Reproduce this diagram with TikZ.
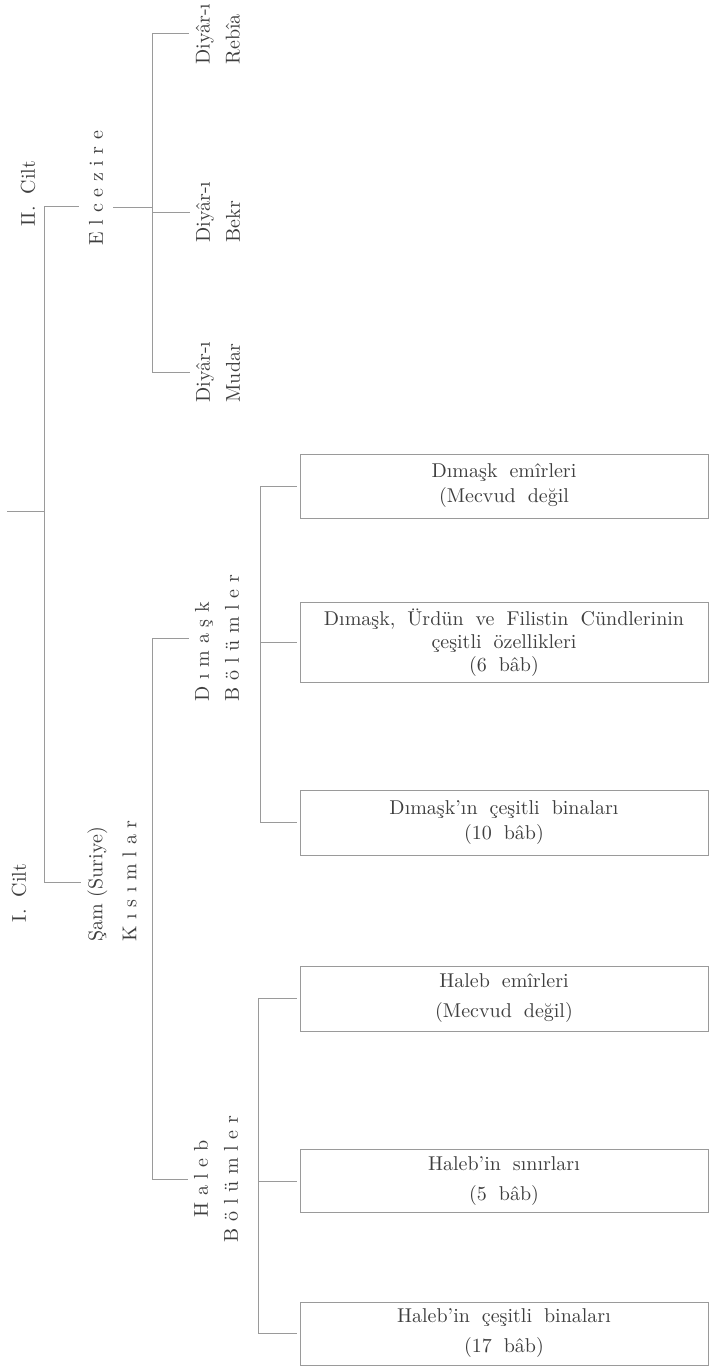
\documentclass[tikz,border=0pt]{standalone}
\usepackage{fontspec}
\usepackage{tikz}
\definecolor{ink}{HTML}{3E3E3E}
\definecolor{rule}{HTML}{9A9A9A}
\newcommand{\widespace}{\spaceskip=6pt plus 2pt minus 1pt\relax}
\tikzset{
  vtext/.style={
    rotate=90,
    text=ink,
    align=left,
    inner xsep=0pt,
    inner ysep=3pt,
    font=\fontsize{10}{15}\selectfont
  },
  chapter/.style={
    draw=rule,
    line width=0.5pt,
    minimum width=204pt,
    minimum height=32pt,
    text=ink,
    align=center,
    font=\fontsize{10}{12.5}\selectfont\widespace
  },
  hchapter/.style={chapter, font=\fontsize{10}{15}\selectfont\widespace},
  link/.style={draw=rule, line width=0.5pt}
}

\begin{document}
\begin{tikzpicture}[x=0.5pt, y=-0.5pt]
  \useasboundingbox (0,0) rectangle (710,1370);

  \node[vtext, font=\fontsize{10}{15}\selectfont\widespace] (vol2) at (28,194) {II. Cilt};
  \node[vtext, font=\fontsize{10}{15}\selectfont\widespace] (vol1) at (19,893) {I. Cilt};

  \node[vtext, inner ysep=5pt] (cezire) at (96,188) {E l c e z i r e};
  \node[vtext] (rebia) at (218,34) {Diyâr-ı\\Rebîa};
  \node[vtext] (bekr) at (218,212) {Diyâr-ı\\Bekr};
  \node[vtext] (mudar) at (218,372) {Diyâr-ı\\Mudar};

  \node[vtext, font=\fontsize{10}{17}\selectfont] (sam) at (112,881)
    {Şam (Suriye)\\K ı s ı m l a r};
  \node[vtext] (dimask) at (217,638) {D ı m a ş k\\B ö l ü m l e r};
  \node[vtext, align=center] (haleb) at (216,1179) {H a l e b\\B ö l ü m l e r};

  \node[chapter] (dbox1) at (504,486) {Dımaşk emîrleri\\(Mecvud değil};
  \node[chapter, minimum height=39.5pt, font=\fontsize{10}{11.5}\selectfont\widespace]
    (dbox2) at (504,642.5)
    {Dımaşk, Ürdün ve Filistin Cündlerinin\\çeşitli özellikleri\\(6 bâb)};
  \node[chapter, minimum height=32.5pt] (dbox3) at (504,822.5)
    {Dımaşk'ın çeşitli binaları\\(10 bâb)};

  \node[hchapter, minimum height=32.5pt] (hbox1) at (504,998.5)
    {Haleb emîrleri\\(Mecvud değil)};
  \node[hchapter, minimum height=31pt] (hbox2) at (504,1181)
    {Haleb'in sınırları\\(5 bâb)};
  \node[hchapter, minimum height=31.5pt] (hbox3) at (504,1333.5)
    {Haleb'in çeşitli binaları\\(17 bâb)};

  % volumes
  \coordinate (root) at (7,511);
  \coordinate (v2) at (44,206);
  \coordinate (v1) at (44,882);
  \draw[link] (v2) -- (v1);
  \draw[link] (root) -- (root -| v1);
  \draw[link] (v2) -- (v2 -| cezire.north);
  \draw[link] (v1) -- (v1 -| sam.north);

  % El cezire
  \coordinate (cz) at (152,207);
  \draw[link] (cezire.south |- cz) -- (cz);
  \draw[link] (rebia.north -| cz) -- (mudar.north -| cz);
  \foreach \n in {rebia,bekr,mudar}
    \draw[link] (\n.north -| cz) -- (\n.north);

  % Sam
  \coordinate (sj) at (152,0);
  \draw[link] (dimask.north -| sj) -- (haleb.north -| sj);
  \draw[link] (dimask.north -| sj) -- (dimask.north);
  \draw[link] (haleb.north -| sj) -- (haleb.north);

  % Dimask and Haleb sections
  \coordinate (dj) at (260,0);
  \draw[link] (dbox1.west -| dj) -- (dbox3.west -| dj);
  \foreach \b in {dbox1,dbox2,dbox3}
    \draw[link] (\b.west -| dj) -- ([xshift=-1.5pt]\b.west);
  \coordinate (hj) at (258,0);
  \draw[link] (hbox1.west -| hj) -- (hbox3.west -| hj);
  \foreach \b in {hbox1,hbox2,hbox3}
    \draw[link] (\b.west -| hj) -- ([xshift=-1.5pt]\b.west);
\end{tikzpicture}
\end{document}
